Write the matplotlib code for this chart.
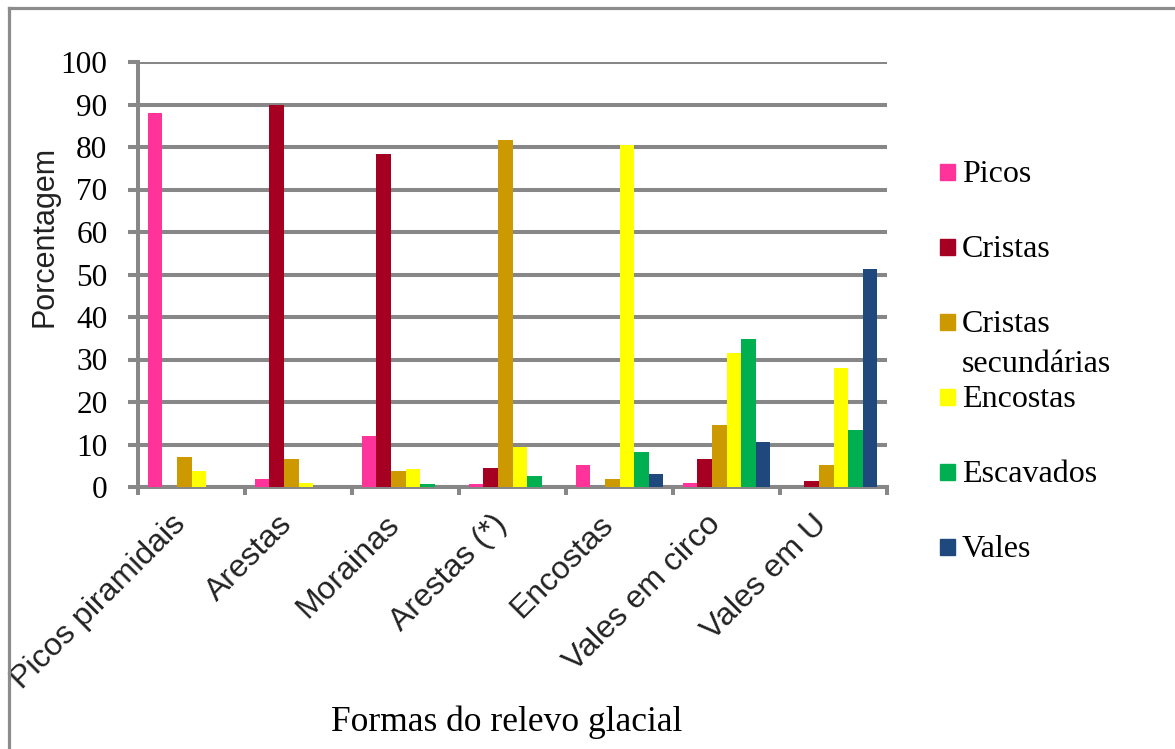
import matplotlib
matplotlib.use("Agg")
import matplotlib.pyplot as plt
import numpy as np
from matplotlib.patches import Rectangle
from matplotlib.lines import Line2D

# categories (x axis) and series
categories = ['Picos piramidais', 'Arestas', 'Morainas', 'Arestas (*)',
              'Encostas', 'Vales em circo', 'Vales em U']
series_names = ['Picos', 'Cristas', 'Cristas\nsecundárias', 'Encostas',
                'Escavados', 'Vales']
picos = [88.1, 1.8, 11.9, 0.8, 5.1, 0.9, 0.0]
cristas = [0.0, 89.8, 78.3, 4.4, 0.0, 6.5, 1.4]
cristas_sec = [7.1, 6.5, 3.7, 81.7, 1.9, 14.7, 5.1]
encostas = [3.7, 0.9, 4.3, 9.4, 80.4, 31.6, 27.9]
escavados = [0.0, 0.0, 0.8, 2.6, 8.3, 34.8, 13.5]
vales = [0.0, 0.0, 0.0, 0.0, 3.1, 10.6, 51.2]
y_ticks = [0, 10, 20, 30, 40, 50, 60, 70, 80, 90, 100]

colors = ['#FF3399', '#A50021', '#CC9900', '#FFFF00', '#00B050', '#1F497D']
all_series = [picos, cristas, cristas_sec, encostas, escavados, vales]

grid_col = '#878787'
serif = 'Liberation Serif'
sans = 'Liberation Sans'

fig = plt.figure(figsize=(11.75, 7.49), dpi=100)
ax = fig.add_axes([138/1175, 1-487/749, (887-138)/1175, (487-62)/749])

x = np.arange(len(categories))
w = 0.136
for i, vals in enumerate(all_series):
    ax.bar(x + (i - 2.5) * w, vals, width=w, color=colors[i], zorder=3)

ax.set_xlim(-0.5, len(categories) - 0.5)
ax.set_ylim(0, 100)
ax.set_yticks(y_ticks)
ax.set_yticklabels([str(v) for v in y_ticks], fontfamily=serif, fontsize=22.5)
ax.yaxis.grid(True, color=grid_col, linewidth=2.9, zorder=0)
ax.set_axisbelow(True)

# category boundary ticks on x axis
ax.set_xticks(np.arange(len(categories) + 1) - 0.5)
ax.set_xticklabels([])
ax.set_xticks(x, minor=True)
ax.set_xticklabels(categories, minor=True, rotation=45, ha='right', va='top',
                   fontfamily=sans, fontsize=23, color='#222222')
ax.tick_params(axis='x', which='minor', length=0, pad=16)
ax.tick_params(axis='x', which='major', length=6, width=2.9, color=grid_col,
               direction='out')
ax.tick_params(axis='y', length=7, width=2.9, color=grid_col, pad=15)

for s in ['top', 'right']:
    ax.spines[s].set_visible(False)
for s in ['left', 'bottom']:
    ax.spines[s].set_color(grid_col)
    ax.spines[s].set_linewidth(2.9)

fig.text(45/1175, 1-236/749, 'Porcentagem', rotation=90, ha='center',
         va='center', fontfamily=sans, fontsize=22, color='#222222')
fig.text(507/1175, 1-722/749, 'Formas do relevo glacial', ha='center',
         va='center', fontfamily=serif, fontsize=25.5)

# legend (evenly spaced slots like the original)
for i, name in enumerate(series_names):
    yc = 172 + i * 75
    fig.patches.append(Rectangle((940/1175, 1-(yc+8)/749), 15/1175, 16/749,
                                 transform=fig.transFigure, color=colors[i]))
    for j, line in enumerate(name.split('\n')):
        fig.text(962/1175, 1-(yc+10+j*40)/749, line, ha='left', va='baseline',
                 fontfamily=serif, fontsize=23)

# outer frame (left and top edges)
fig.add_artist(Line2D([9/1175, 9/1175], [0, 1-8/749], transform=fig.transFigure,
                      color='#8c8c8c', linewidth=2.3))
fig.add_artist(Line2D([9/1175, 1], [1-8/749, 1-8/749], transform=fig.transFigure,
                      color='#8c8c8c', linewidth=2.3))

fig.savefig('out.png', dpi=100)
